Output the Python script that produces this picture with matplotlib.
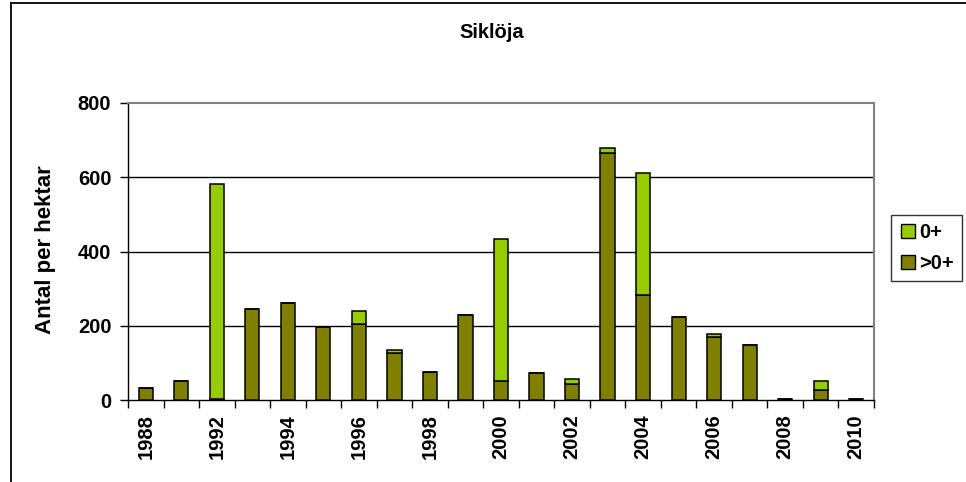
import matplotlib

matplotlib.use("Agg")
import matplotlib.pyplot as plt
from matplotlib.lines import Line2D
import numpy as np

# Siklöja catches per hectare, split by age group
years = ["1988", "1990", "1992", "1993", "1994", "1995", "1996", "1997", "1998",
         "1999", "2000", "2001", "2002", "2003", "2004", "2005", "2006", "2007",
         "2008", "2009", "2010"]
older = [31, 52, 4, 245, 262, 196, 204, 126, 76, 228, 52, 73, 44, 665, 283,
         224, 170, 147, 3, 27, 3]          # >0+
young = [0, 0, 577, 0, 0, 0, 37, 9, 0, 0, 381, 0, 12, 15, 328, 0, 8, 0, 0,
         25, 0]                             # 0+
yticks = [0, 200, 400, 600, 800]

OLIVE = "#808000"
LIME = "#99cc00"
FS = 14.5

plt.rcParams["font.family"] = ["Liberation Sans", "DejaVu Sans"]
plt.rcParams["font.weight"] = "bold"

fig = plt.figure(figsize=(9.66, 4.82), dpi=100)
W, H = 966, 482
ax = fig.add_axes([128 / W, 1 - 400 / H, (874 - 128) / W, (400 - 103) / H])

x = np.arange(len(years))
ax.bar(x, older, width=0.4, color=OLIVE, edgecolor="black", linewidth=1.1, zorder=3)
ax.bar(x, young, width=0.4, bottom=older, color=LIME, edgecolor="black",
       linewidth=1.1, zorder=3)

for v in yticks[1:-1]:
    ax.axhline(v, color="black", lw=1.0, zorder=1)

ax.set_xlim(-0.5, len(years) - 0.5)
ax.set_ylim(0, 800)
ax.set_yticks(yticks)
ax.set_yticklabels([str(v) for v in yticks], fontsize=FS, fontweight="bold")
ax.tick_params(axis="y", direction="out", length=6, width=1, pad=6)

# labels on every second category, tick marks on category boundaries
ax.set_xticks(x[::2])
ax.set_xticklabels(years[::2], rotation=90, fontsize=FS, fontweight="bold")
ax.tick_params(axis="x", which="major", length=0, pad=10)
ax.set_xticks(np.arange(-0.5, len(years)), minor=True)
ax.tick_params(axis="x", which="minor", direction="out", length=6, width=1)

for side in ("top", "right"):
    ax.spines[side].set_color("#808080")
    ax.spines[side].set_linewidth(1.5)
for side in ("left", "bottom"):
    ax.spines[side].set_color("black")
    ax.spines[side].set_linewidth(1.0)

fig.text(46 / W, 1 - 250 / H, "Antal per hektar", rotation=90, ha="center",
         va="center", fontsize=16, fontweight="bold")
fig.text(492 / W, 1 - 33 / H, "Siklöja", ha="center", va="center",
         fontsize=FS, fontweight="bold")

handles = [
    Line2D([0], [0], marker="s", ls="none", markersize=10, markerfacecolor=LIME,
           markeredgecolor="black", label="0+"),
    Line2D([0], [0], marker="s", ls="none", markersize=10, markerfacecolor=OLIVE,
           markeredgecolor="black", label=">0+"),
]
leg = fig.legend(handles=handles, loc="upper left",
                 bbox_to_anchor=(891 / W, 1 - 215 / H), frameon=True,
                 fancybox=False, edgecolor="black", fontsize=FS,
                 handletextpad=0.1, borderpad=0.4, labelspacing=0.6,
                 handlelength=0.9, borderaxespad=0)
leg.get_frame().set_linewidth(1.0)
for t in leg.get_texts():
    t.set_fontweight("bold")

# outer chart frame (left and top edges visible)
fig.add_artist(Line2D([11 / W, 11 / W], [0, 1 - 3 / H], color="black", lw=1.3,
                      transform=fig.transFigure))
fig.add_artist(Line2D([11 / W, 1], [1 - 3 / H, 1 - 3 / H], color="black",
                      lw=1.3, transform=fig.transFigure))

fig.savefig("out.png", dpi=100)
